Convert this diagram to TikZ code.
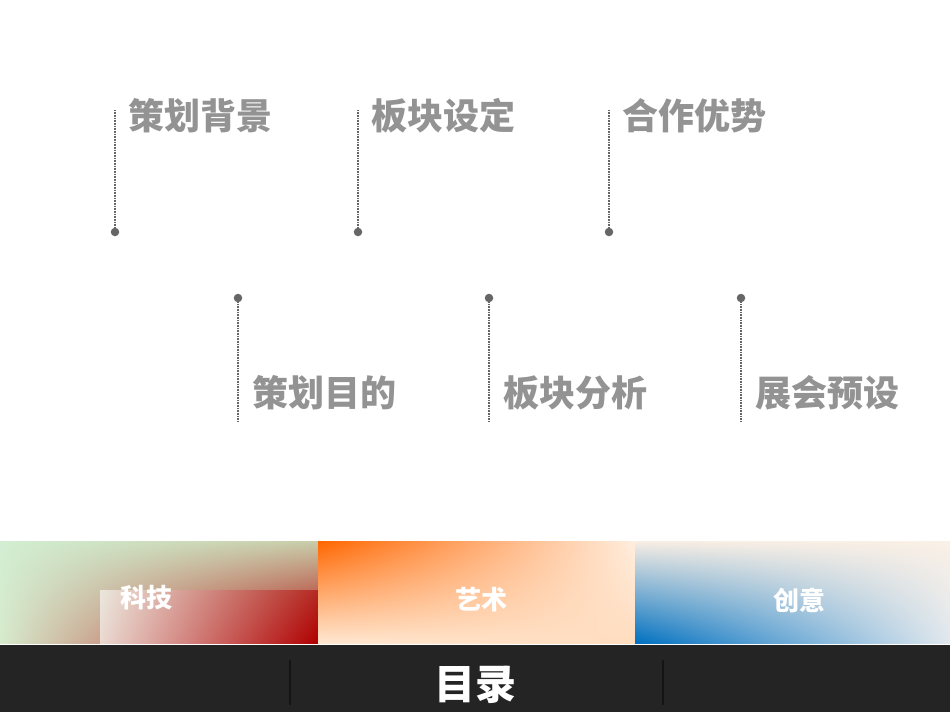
\documentclass[tikz,border=0pt]{standalone}
\usepackage{fontspec}
\usetikzlibrary{shadings}
\setmainfont{Noto Sans CJK SC}
\definecolor{gA}{RGB}{210,238,210}
\definecolor{gB}{RGB}{200,205,170}
\definecolor{gC}{RGB}{215,235,205}
\definecolor{rD}{RGB}{176,0,0}
\definecolor{oA}{RGB}{255,102,0}
\definecolor{oB}{RGB}{255,238,222}
\definecolor{oC}{RGB}{255,232,210}
\definecolor{oD}{RGB}{255,220,190}
\definecolor{bA}{RGB}{248,238,228}
\definecolor{bB}{RGB}{250,240,230}
\definecolor{bC}{RGB}{0,112,192}
\definecolor{bD}{RGB}{225,232,238}
\begin{document}
\begin{tikzpicture}[x=1pt,y=-1pt,
  lbl/.style={anchor=west,text=gray!85!white,font=\fontsize{36}{40}\selectfont\bfseries,inner sep=0pt},
  stem/.style={draw=gray!80!black,line width=2pt,dash pattern=on 1pt off 0.6pt},
  dotpt/.style={circle,fill=gray!80!black,inner sep=0pt,minimum size=8.5pt},
  band/.style={text=white,font=\fontsize{26}{28}\selectfont\bfseries}]
\useasboundingbox (0,0) rectangle (950,713);
\fill[white] (0,0) rectangle (950,713);
% top items
\foreach \x/\t/\n in {115/策划背景/a,358/板块设定/b,609/合作优势/c}{
  \node[dotpt] (d\n) at (\x,232) {};
  \coordinate (t\n) at (\x,110);
  \draw[stem] (t\n) -- (d\n);
  \node[lbl] (l\n) at (\x+13,116) {\t};
}
\foreach \x/\t/\n in {238/策划目的/d,489/板块分析/e,741/展会预设/f}{
  \node[dotpt] (d\n) at (\x,298) {};
  \coordinate (t\n) at (\x,422);
  \draw[stem] (d\n) -- (t\n);
  \node[lbl] (l\n) at (\x+14,393) {\t};
}
% bands
\shade[upper left=gA,upper right=gB,lower left=gC,lower right=rD] (0,541) rectangle (318,643);
\shade[left color=rD!0,right color=rD,opacity=0.6] (100,590) rectangle (318,643);
\shade[upper left=oA,upper right=oB,lower left=oC,lower right=oD] (318,541) rectangle (635,643);
\shade[upper left=bA,upper right=bB,lower left=bC,lower right=bD] (635,541) rectangle (950,643);
\node[band] (k) at (146,598) {科技};
\node[band] (y) at (481,600) {艺术};
\node[band] (c) at (799,600) {创意};
% bottom bar
\fill[black!86] (0,645) rectangle (950,712);
\fill[black!92] (289,660) rectangle (291,705);
\fill[black!92] (662,660) rectangle (664,705);
\node[text=white,font=\fontsize{41}{45}\selectfont\bfseries] (m) at (475,685) {目录};
\end{tikzpicture}
\end{document}
